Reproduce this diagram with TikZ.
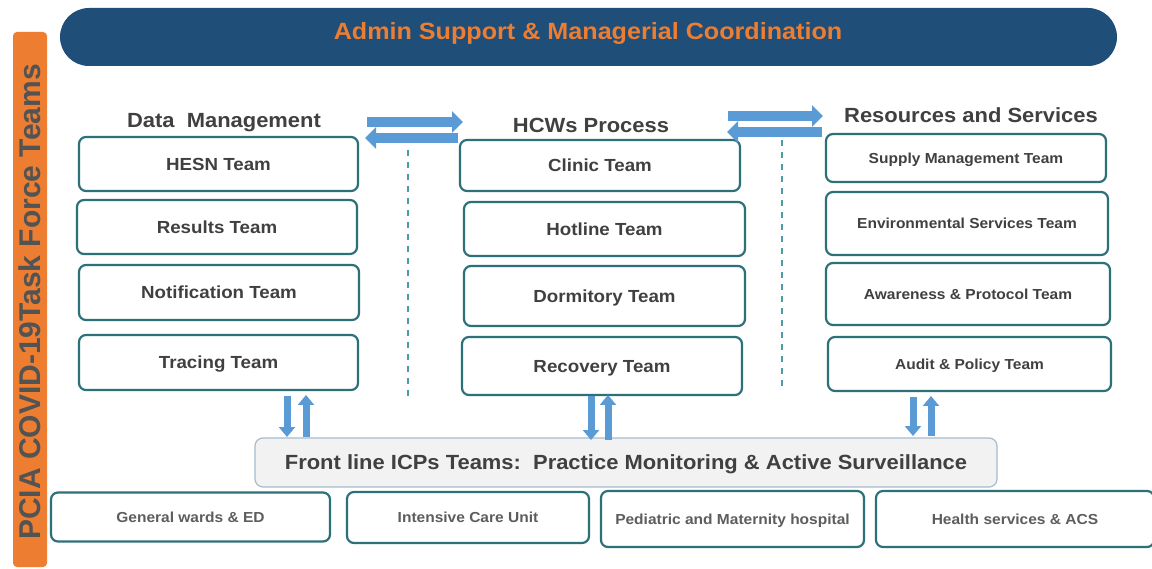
\documentclass[tikz,border=0pt]{standalone}
\usepackage{fontspec}
\setmainfont[FakeStretch=1.07]{Liberation Sans}
\newfontfamily\sidefont{Liberation Sans}
\usetikzlibrary{arrows.meta}
\definecolor{navy}{HTML}{1F4E79}
\definecolor{orng}{HTML}{ED7D31}
\definecolor{tealb}{HTML}{2E7078}
\definecolor{txt}{HTML}{404040}
\definecolor{arrb}{HTML}{5B9BD5}
\definecolor{dashc}{HTML}{4F9AA8}
\begin{document}
\begin{tikzpicture}[x=1pt,y=-1pt,
  tbox/.style={draw=tealb,line width=2.2pt,rounded corners=7pt,fill=white,
    text=txt,font=\bfseries\fontsize{17.5}{20}\selectfont,inner sep=0pt,
    text height=12.6pt,text depth=0pt},
  rbox/.style={tbox,font=\bfseries\fontsize{14.5}{17}\selectfont,text height=10.4pt},
  bbox/.style={rbox,text=txt!85},
  hdr/.style={text=txt,font=\bfseries\fontsize{20.5}{24}\selectfont,inner sep=0pt,
    text height=14.8pt,text depth=0pt},
  fatarrow/.style={draw=arrb,line width=10pt,-{Triangle[width=21pt,length=11pt]}},
  vfat/.style={draw=arrb,line width=7pt,-{Triangle[width=16pt,length=10pt]}},
  sep/.style={draw=dashc,line width=1.5pt,dash pattern=on 6pt off 6pt}]
\useasboundingbox (0,0) rectangle (1152,569);
\fill[white] (0,0) rectangle (1152,569);

% side bar
\fill[orng,rounded corners=4pt] (13,32) rectangle (47,567);
\node[rotate=90,text=txt!90,font=\sidefont\bfseries\fontsize{30}{33}\selectfont,inner sep=0pt] (side) at (30,302) {PCIA COVID-19Task Force Teams};

% top bar
\fill[navy,rounded corners=29pt] (60,8) rectangle (1117,66);
\node[text=orng,font=\bfseries\fontsize{23.5}{28}\selectfont,inner sep=0pt,
  text height=16.9pt,text depth=0pt] (admin) at (588,31.5) {Admin Support \& Managerial Coordination};

% headers
\node[hdr] (hdm) at (224,120) {Data\ \ Management};
\node[hdr] (hhcw) at (591,125) {HCWs Process};
\node[hdr] (hres) at (971,115.5) {Resources and Services};

% left column
\node[tbox,minimum width=279pt,minimum height=54pt] (hesn) at (218.5,164) {HESN Team};
\node[tbox,minimum width=280pt,minimum height=54pt] (res) at (217,227) {Results Team};
\node[tbox,minimum width=280pt,minimum height=55pt] (noti) at (219,292.5) {Notification Team};
\node[tbox,minimum width=279pt,minimum height=55pt] (trac) at (218.5,362.5) {Tracing Team};

% middle column
\node[tbox,minimum width=280pt,minimum height=51pt] (clin) at (600,165.5) {Clinic Team};
\node[tbox,minimum width=281pt,minimum height=54pt] (hot) at (604.5,229) {Hotline Team};
\node[tbox,minimum width=281pt,minimum height=60pt] (dorm) at (604.5,296) {Dormitory Team};
\node[tbox,minimum width=280pt,minimum height=58pt] (reco) at (602,366) {Recovery Team};

% right column
\node[rbox,minimum width=280pt,minimum height=48pt] (sup) at (966,158) {Supply Management Team};
\node[rbox,minimum width=282pt,minimum height=63pt] (env) at (967,223.5) {Environmental Services Team};
\node[rbox,minimum width=284pt,minimum height=62pt] (awa) at (968,294) {Awareness \& Protocol Team};
\node[rbox,minimum width=283pt,minimum height=54pt] (aud) at (969.5,364) {Audit \& Policy Team};

% front line
\node[draw=arrb!55!gray!60,line width=1.2pt,fill=gray!10,rounded corners=8pt,
  minimum width=742pt,minimum height=49pt,text=txt,
  font=\bfseries\fontsize{20.5}{24}\selectfont,inner sep=0pt,
  text height=14.8pt,text depth=0pt] (front) at (626,462.5)
  {Front line ICPs Teams:\ \ Practice Monitoring \& Active Surveillance};

% bottom row
\node[bbox,minimum width=279pt,minimum height=49pt] (gen) at (190.5,517) {General wards \& ED};
\node[bbox,minimum width=242pt,minimum height=51pt] (icu) at (468,517.5) {Intensive Care Unit};
\node[bbox,minimum width=263pt,minimum height=56pt] (ped) at (732.5,519) {Pediatric and Maternity hospital};
\node[bbox,minimum width=278pt,minimum height=56pt] (hs) at (1015,519) {Health services \& ACS};

% dashed separators
\coordinate (s1t) at (408,150); \coordinate (s1b) at (408,400);
\coordinate (s2t) at (782,140); \coordinate (s2b) at (782,390);
\draw[sep] (s1t) -- (s1b);
\draw[sep] (s2t) -- (s2b);

% horizontal arrows
\coordinate (a1s) at (367,122); \coordinate (a1e) at (463,122);
\coordinate (a2s) at (458,138); \coordinate (a2e) at (365,138);
\coordinate (a3s) at (728,116); \coordinate (a3e) at (823,116);
\coordinate (a4s) at (822,132); \coordinate (a4e) at (727,132);
\draw[fatarrow] (a1s) -- (a1e);
\draw[fatarrow] (a2s) -- (a2e);
\draw[fatarrow] (a3s) -- (a3e);
\draw[fatarrow] (a4s) -- (a4e);

% vertical arrows
\coordinate (v1a) at (287,396); \coordinate (v1b) at (287,437);
\coordinate (v2a) at (306,437); \coordinate (v2b) at (306,395);
\coordinate (v3a) at (591,396); \coordinate (v3b) at (591,440);
\coordinate (v4a) at (608,440); \coordinate (v4b) at (608,395);
\coordinate (v5a) at (913,397); \coordinate (v5b) at (913,436);
\coordinate (v6a) at (931,436); \coordinate (v6b) at (931,396);
\draw[vfat] (v1a) -- (v1b);
\draw[vfat] (v2a) -- (v2b);
\draw[vfat] (v3a) -- (v3b);
\draw[vfat] (v4a) -- (v4b);
\draw[vfat] (v5a) -- (v5b);
\draw[vfat] (v6a) -- (v6b);
\end{tikzpicture}
\end{document}
